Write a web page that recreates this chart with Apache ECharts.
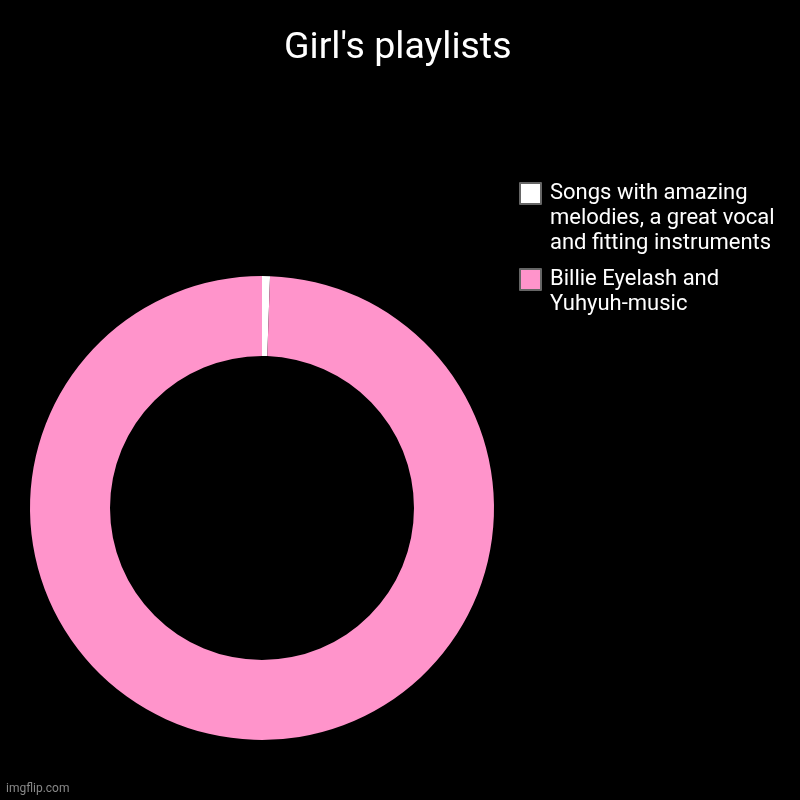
<!DOCTYPE html>
<html><head><meta charset="utf-8">
<script src="https://cdn.jsdelivr.net/npm/echarts@6/dist/echarts.min.js"></script>
<style>html,body{margin:0;padding:0;background:#000}#c{width:800px;height:800px}</style>
</head><body><div id="c"></div>
<script>
const categories = ["Songs with amazing melodies, a great vocal and fitting instruments", "Billie Eyelash and Yuhyuh-music"];
const legendLines = [["Songs with amazing", "melodies, a great vocal", "and fitting instruments"], ["Billie Eyelash and", "Yuhyuh-music"]];
const values = [1, 180];
const colors = ["#ffffff", "#ff94cb"];

// prepend empty lines so the first text line sits level with the legend box
const legendText = legendLines.map(l => new Array(l.length - 1).fill('').concat(l).join('\n'));

const chart = echarts.init(document.getElementById('c'));
chart.setOption({
  backgroundColor: '#000',
  animation: false,
  title: {
    text: "Girl's playlists", left: 279, top: 25,
    textStyle: { color: '#fff', fontSize: 37.5, fontWeight: 'normal', fontFamily: 'Roboto' }
  },
  legend: {
    orient: 'vertical', left: 519, top: 131, padding: 0, itemWidth: 21, itemHeight: 21, itemGap: -14,
    icon: 'rect',
    itemStyle: { borderColor: '#666', borderWidth: 2 },
    formatter: n => legendText[categories.indexOf(n)],
    textStyle: { color: '#fff', fontSize: 22, fontFamily: 'Roboto', lineHeight: 25, padding: [0, 0, 0, 4] },
    data: categories
  },
  graphic: [{ type: 'text', left: 6, top: 783, style: { text: 'imgflip.com', fill: '#888', fontSize: 12, fontFamily: 'Roboto' } }],
  series: [{
    type: 'pie', center: [262, 508], radius: [152, 232], startAngle: 90, clockwise: true,
    label: { show: false }, labelLine: { show: false }, emphasis: { disabled: true },
    data: categories.map((c, i) => ({ name: c, value: values[i], itemStyle: { color: colors[i] } }))
  }]
});
</script></body></html>
